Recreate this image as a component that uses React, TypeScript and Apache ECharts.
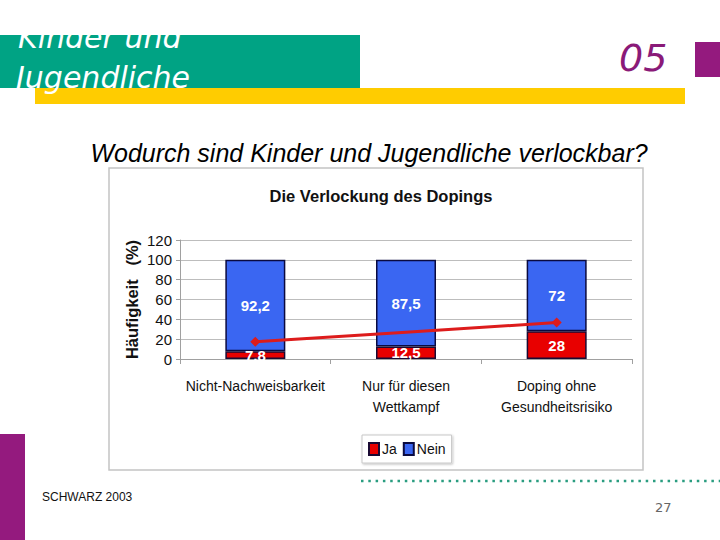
import React, { useEffect, useRef } from "react";
import * as echarts from "echarts";

const categories = ["Nicht-Nachweisbarkeit", "Nur für diesen\nWettkampf", "Doping ohne\nGesundheitsrisiko"];
const jaValues = [7.8, 12.5, 28];
const neinValues = [92.2, 87.5, 72];
const trendValues = [17.3, 27, 36.7];
const yTicks = { min: 0, max: 120, interval: 20 };

const fmt = (v: number) => String(v).replace(".", ",");

export default function App() {
  const ref = useRef<HTMLDivElement>(null);
  useEffect(() => {
    if (!ref.current) return;
    const chart = echarts.init(ref.current, null, { renderer: "svg" });
    chart.setOption({
      animation: false,
      backgroundColor: "#ffffff",
      title: [
        {
          text: "Wodurch sind Kinder und Jugendliche verlockbar?",
          left: 364,
          textAlign: "center",
          top: 135,
          textStyle: { fontFamily: "Liberation Sans", fontStyle: "italic", fontWeight: "normal", fontSize: 25, color: "#000" },
        },
        {
          text: "Die Verlockung des Dopings",
          left: 376,
          textAlign: "center",
          top: 182,
          textStyle: { fontFamily: "Liberation Sans", fontWeight: "bold", fontSize: 16.5, color: "#111" },
        },
      ],
      graphic: [
        { type: "rect", shape: { x: 0, y: 35, width: 360, height: 53 }, style: { fill: "#00a384" }, z: 1 },
        { type: "rect", shape: { x: 35, y: 88, width: 650, height: 16 }, style: { fill: "#ffcc00" }, z: 1 },
        { type: "rect", shape: { x: 695, y: 42, width: 25, height: 35 }, style: { fill: "#941a7e" }, z: 1 },
        { type: "rect", shape: { x: 0, y: 434, width: 25, height: 106 }, style: { fill: "#941a7e" }, z: 1 },
        {
          type: "text", x: 18, y: 52, z: 2,
          style: { text: "Kinder und", fill: "#ffffff", font: "italic 300 30px 'DejaVu Sans'", textVerticalAlign: "bottom" },
        },
        {
          type: "text", x: 16, y: 92, z: 2,
          style: { text: "Jugendliche", fill: "#ffffff", font: "italic 300 30px 'DejaVu Sans'", textVerticalAlign: "bottom" },
        },
        {
          type: "text", x: 619, y: 77, z: 2,
          style: { text: "05", fill: "#8a1a78", font: "italic 38px 'DejaVu Sans'", textVerticalAlign: "bottom" },
        },
        {
          type: "rect", shape: { x: 109, y: 168, width: 534, height: 302 },
          style: { fill: "none", stroke: "#c4c4c4", lineWidth: 1.5 }, z: 0,
        },
        {
          type: "line", shape: { x1: 361, y1: 481, x2: 720, y2: 481 },
          style: { stroke: "#2a9d80", lineWidth: 2.5, lineDash: [2.5, 4.8] }, z: 1,
        },
        {
          type: "text", x: 42, y: 497, z: 2,
          style: { text: "SCHWARZ 2003", fill: "#111", font: "12px 'Liberation Sans'", textVerticalAlign: "middle" },
        },
        {
          type: "text", x: 655, y: 507, z: 2,
          style: { text: "27", fill: "#666", font: "13px 'DejaVu Sans'", textVerticalAlign: "middle", letterSpacing: 3 },
        },
      ],
      legend: {
        data: ["Ja", "Nein"],
        left: 362,
        top: 435,
        orient: "horizontal",
        padding: [7, 6],
        itemGap: 6,
        itemWidth: 10,
        itemHeight: 12,
        borderColor: "#c8c8c8",
        borderWidth: 1,
        backgroundColor: "#fff",
        shadowColor: "rgba(0,0,0,0.25)",
        shadowBlur: 2,
        shadowOffsetX: 1,
        shadowOffsetY: 1,
        icon: "rect",
        textStyle: { fontFamily: "Liberation Sans", fontSize: 14, color: "#111", padding: [0, 0, 0, -2] },
      },
      grid: { left: 180, right: 88, top: 240, bottom: 181, containLabel: false },
      xAxis: {
        type: "category",
        data: categories,
        axisLine: { lineStyle: { color: "#a0a0a0", width: 1 } },
        axisTick: { show: true, alignWithLabel: false, length: 5, lineStyle: { color: "#a0a0a0" } },
        axisLabel: { fontFamily: "Liberation Sans", fontSize: 14, color: "#111", margin: 16, lineHeight: 21, interval: 0 },
      },
      yAxis: {
        type: "value",
        min: yTicks.min,
        max: yTicks.max,
        interval: yTicks.interval,
        name: "Häufigkeit   (%)",
        nameLocation: "middle",
        nameRotate: 90,
        nameGap: 40,
        nameMoveOverlap: false,
        nameTextStyle: { fontFamily: "Liberation Sans", fontWeight: "bold", fontSize: 16.5, color: "#111" },
        axisLine: { show: true, lineStyle: { color: "#a0a0a0" } },
        axisTick: { show: true, length: 4, lineStyle: { color: "#a0a0a0" } },
        axisLabel: { fontFamily: "Liberation Sans", fontSize: 15, color: "#111", margin: 8 },
        splitLine: { lineStyle: { color: "#bdbdbd", width: 1 } },
      },
      series: [
        {
          name: "Ja",
          type: "bar",
          stack: "total",
          barWidth: 60,
          data: jaValues,
          itemStyle: { color: "#e80000", borderColor: "#1a0a33", borderWidth: 1.5 },
          label: {
            show: true, position: "inside", color: "#fff", fontFamily: "Liberation Sans", fontWeight: "bold", fontSize: 15,
            formatter: (p: any) => fmt(p.value),
          },
        },
        {
          name: "Nein",
          type: "bar",
          stack: "total",
          barWidth: 60,
          data: neinValues,
          itemStyle: { color: "#3a66f2", borderColor: "#0a0a40", borderWidth: 1.5 },
          label: {
            show: true, position: "inside", color: "#fff", fontFamily: "Liberation Sans", fontWeight: "bold", fontSize: 15,
            formatter: (p: any) => fmt(p.value),
          },
        },
        {
          name: "Trend",
          type: "line",
          data: trendValues.map((v, i) => ({ value: v, symbol: i === 1 ? "none" : "diamond" })),
          symbolSize: 10,
          lineStyle: { color: "#dd1c1c", width: 3 },
          itemStyle: { color: "#dd1c1c" },
          z: 5,
        },
      ],
    });
    return () => chart.dispose();
  }, []);
  return <div ref={ref} style={{ position: "fixed", left: 0, top: 0, width: 720, height: 540 }} />;
}
